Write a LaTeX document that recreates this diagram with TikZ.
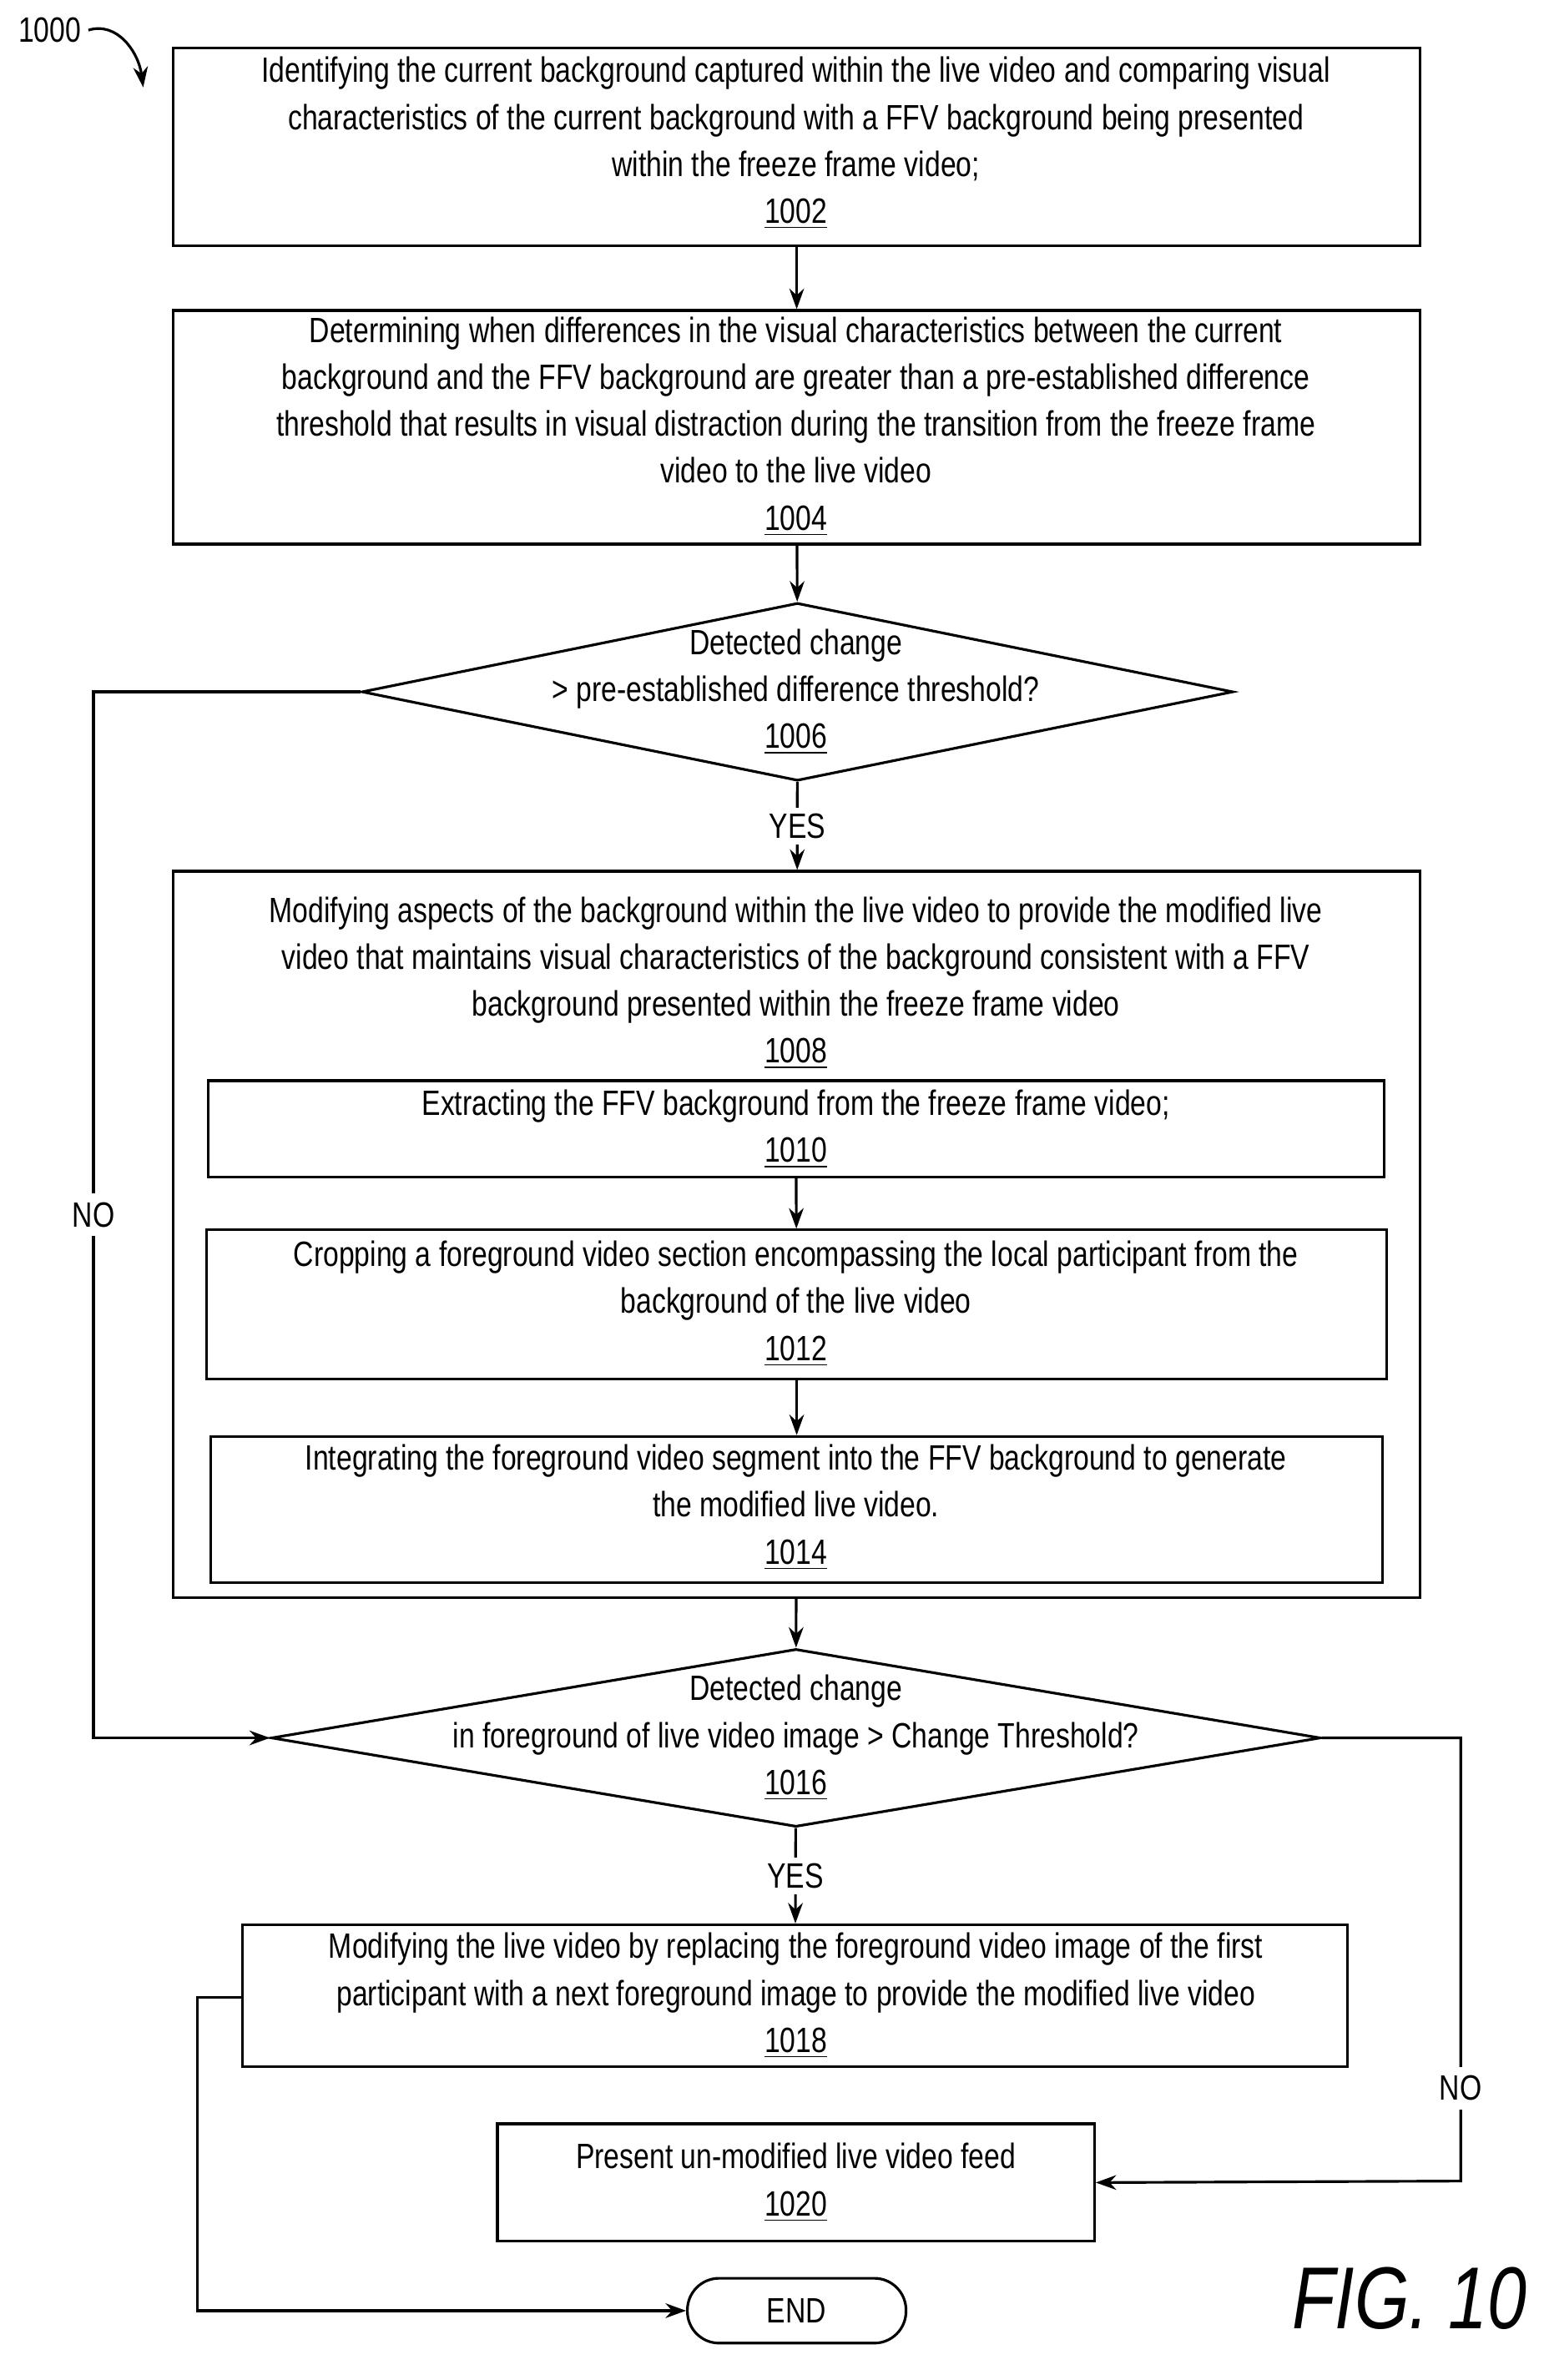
\documentclass[tikz,border=0pt]{standalone}
\usepackage{fontspec}
\setmainfont[FakeStretch=0.8]{Liberation Sans}
\usetikzlibrary{arrows.meta,shapes.geometric}
\begin{document}
\begin{tikzpicture}[x=0.01806cm,y=-0.01806cm,
  every node/.style={font=\fontsize{12}{16}\selectfont,align=center},
  bx/.style 2 args={draw,line width=0.9pt,minimum width=#1*0.01806cm,minimum height=#2*0.01806cm,inner sep=0pt},
  dm/.style n args={3}{draw,line width=0.9pt,diamond,aspect=#3,minimum width=#1*0.01806cm,minimum height=#2*0.01806cm,inner sep=0pt},
  ar/.style={-{Stealth[length=7pt,width=5pt]},line width=0.9pt},
  ln/.style={line width=0.9pt}]
\useasboundingbox (0,0) rectangle (1024,1579);
\node[bx={827}{131}] (b1002) at (528.5,97.5) {};
\node at (528,95) {Identifying the current background captured within the live video and comparing visual\\characteristics of the current background with a FFV background being presented\\within the freeze frame video;\\\underline{1002}};
\node[bx={827}{155}] (b1004) at (528.5,283.5) {};
\node at (528,283) {Determining when differences in the visual characteristics between the current\\background and the FFV background are greater than a pre-established difference\\threshold that results in visual distraction during the transition from the freeze frame\\video to the live video\\\underline{1004}};
\node[dm={578}{118}{4.898}] (d1006) at (529,459) {};
\node at (528,459) {Detected change\\> pre-established difference threshold?\\\underline{1006}};
\node[bx={827}{482}] (b1008) at (528.5,819) {};
\node[anchor=north] at (528,588) {Modifying aspects of the background within the live video to provide the modified live\\video that maintains visual characteristics of the background consistent with a FFV\\background presented within the freeze frame video\\\underline{1008}};
\node[bx={780}{64}] (b1010) at (528,749) {};
\node at (528,749) {Extracting the FFV background from the freeze frame video;\\\underline{1010}};
\node[bx={783}{99}] (b1012) at (528.5,865.5) {};
\node at (528,865) {Cropping a foreground video section encompassing the local participant from the\\background of the live video\\\underline{1012}};
\node[bx={777}{97}] (b1014) at (528.5,1001.5) {};
\node at (528,1000) {Integrating the foreground video segment into the FFV background to generate\\the modified live video.\\\underline{1014}};
\node[dm={696}{118}{5.898}] (d1016) at (528,1153) {};
\node at (528,1153) {Detected change\\in foreground of live video image > Change Threshold?\\\underline{1016}};
\node[bx={733}{94}] (b1018) at (527.5,1324) {};
\node at (528,1324) {Modifying the live video by replacing the foreground video image of the first\\participant with a next foreground image to provide the modified live video\\\underline{1018}};
\node[bx={396}{78}] (b1020) at (528,1448) {};
\node at (528,1448) {Present un-modified live video feed\\\underline{1020}};
\node[draw,line width=0.9pt,rounded corners=0.38cm,minimum width=2.62cm,minimum height=0.777cm] (end) at (528.5,1533) {END};
\node (l1000) at (33,20) {1000};
\node[font=\fontsize{30}{30}\selectfont\itshape] (fig) at (935,1525) {FIG. 10};
\draw[ar] (b1002) -- (b1004);
\draw[ar] (b1004) -- (d1006);
\draw[ar] (d1006) -- node[fill=white,inner sep=2pt] {YES} (b1008);
\draw[ar] (b1010) -- (b1012);
\draw[ar] (b1012) -- (b1014);
\draw[ar] (b1008) -- (d1016);
\draw[ar] (d1016) -- node[fill=white,inner sep=2pt] {YES} (b1018);
\draw[ar] (d1006.west) -- (62,459) -- node[fill=white,inner sep=3pt] {NO} (62,1153) -- (d1016.west);
\draw[ar] (d1016.east) -- (969,1153) -- node[pos=0.79,fill=white,inner sep=3pt] {NO} (969,1447) -- (b1020.east);
\draw[ar] (b1018.west) ++(0,1) -- (131,1325) -- (131,1533) -- (end.west);
\draw[ar] (l1000.east) ++(-2,0) .. controls (78,14) and (92,35) .. (95,58);
\end{tikzpicture}
\end{document}
